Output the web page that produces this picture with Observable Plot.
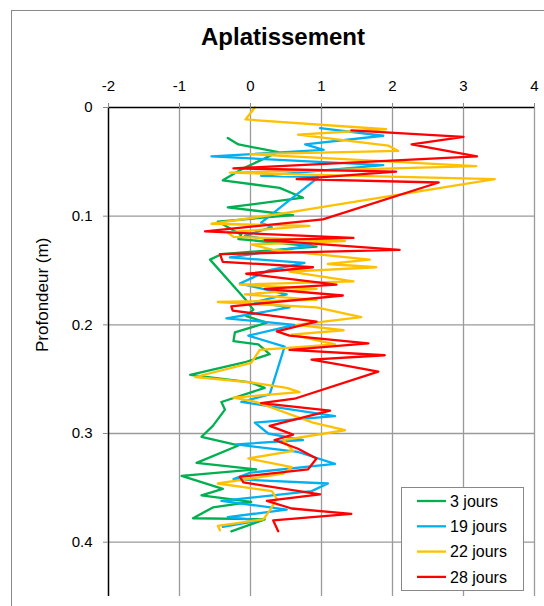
<!DOCTYPE html>
<html><head><meta charset="utf-8">
<script src="https://cdn.jsdelivr.net/npm/d3@7"></script>
<script src="https://cdn.jsdelivr.net/npm/@observablehq/plot@0.6"></script>
<style>
body{margin:0;background:#fff;}
#wrap{position:relative;width:544px;height:606px;overflow:hidden;font-family:"Liberation Sans",Arial,sans-serif;background:#fff;}
#frame{position:absolute;left:11px;top:10px;width:600px;height:700px;border:1px solid #888;box-sizing:border-box;}
#title{position:absolute;left:0;width:566px;top:23px;text-align:center;font-weight:bold;font-size:24px;color:#000;}
#chart{position:absolute;left:0;top:0;}
#legend{position:absolute;left:401px;top:487px;}
</style>
</head><body>
<div id="wrap"><div id="frame"></div><div id="chart"></div><div id="title"></div><div id="legend"></div></div>
<script>
const titleText = "Aplatissement";
const yLabel = "Profondeur (m)";
const seriesNames = ["3 jours","19 jours","22 jours","28 jours"];
const seriesColors = ["#00B050","#00B0F0","#FFC000","#FF0000"];
const xTicks = [-2,-1,0,1,2,3,4];
const yTicks = [0,0.1,0.2,0.3,0.4];

// 3 jours
const depth3 = [0.028,0.034,0.041,0.056,0.067,0.074,0.083,0.092,0.099,0.105,0.117,0.121,0.128,0.135,0.140,0.176,0.186,0.192,0.198,0.207,0.215,0.218,0.227,0.234,0.246,0.253,0.258,0.271,0.278,0.293,0.303,0.311,0.327,0.333,0.339,0.351,0.357,0.363,0.368,0.378,0.379,0.390];
const aplat3 = [-0.32,-0.17,0.39,-0.1,-0.39,0.41,0.74,-0.32,0.6,-0.46,-0.13,-0.17,0.93,-0.41,-0.57,-0.08,0.04,-0.06,0.23,-0.22,-0.24,0.11,0.27,-0.06,-0.85,0,0.2,-0.41,-0.36,-0.53,-0.69,-0.17,-0.76,0.08,-0.97,-0.39,-0.69,0.01,-0.53,-0.81,0.2,-0.27];
// 19 jours
const depth19 = [0.019,0.026,0.034,0.039,0.045,0.053,0.063,0.064,0.106,0.110,0.118,0.127,0.138,0.143,0.150,0.162,0.172,0.179,0.184,0.194,0.200,0.210,0.220,0.264,0.271,0.284,0.290,0.300,0.306,0.310,0.317,0.328,0.336,0.342,0.346,0.353,0.362,0.370,0.377,0.380,0.386];
const aplat19 = [0.98,1.87,0.77,1.03,-0.55,1.87,0.15,0.96,0.15,0.3,-0.08,0.86,-0.29,0.76,0.25,-0.15,0.51,0.06,0.55,-0.34,0.62,-0.03,0.48,0.27,-0.13,1.19,0.06,0.25,0.74,-0.2,0.67,1.19,0,-0.24,1.09,0.86,-0.41,0.51,-0.32,0.13,-0.39];
// 22 jours
const depth22 = [0.000,0.011,0.020,0.025,0.035,0.040,0.043,0.054,0.060,0.066,0.097,0.107,0.109,0.115,0.119,0.123,0.126,0.131,0.140,0.144,0.147,0.151,0.160,0.163,0.167,0.172,0.177,0.179,0.184,0.193,0.200,0.205,0.209,0.218,0.223,0.235,0.248,0.253,0.258,0.262,0.267,0.271,0.290,0.297,0.306,0.316,0.323,0.331,0.337,0.346,0.353,0.360,0.371,0.379,0.385,0.389];
const aplat22 = [0.06,-0.07,1.91,0.67,1.94,2.08,0.0,3.18,-0.29,3.44,0.5,-0.55,0.83,-0.32,-0.24,1.33,0.01,0.32,1.68,1.09,1.77,0.55,1.45,-0.15,0.93,-0.08,0.93,-0.46,0.93,1.56,0.65,1.31,0.58,1.19,0.13,0.01,-0.78,0,0.51,0.69,-0.24,0.08,0.88,1.33,0.46,0.6,-0.03,0.58,0.46,-0.46,0.3,0.37,0.27,0.18,-0.46,-0.43];
// 28 jours
const depth28 = [0.021,0.027,0.034,0.045,0.056,0.059,0.066,0.069,0.103,0.114,0.120,0.122,0.131,0.135,0.142,0.147,0.153,0.163,0.167,0.173,0.183,0.187,0.197,0.206,0.210,0.217,0.223,0.228,0.232,0.237,0.243,0.268,0.272,0.279,0.293,0.301,0.306,0.314,0.323,0.333,0.340,0.345,0.356,0.362,0.369,0.374,0.380,0.390];
const aplat28 = [1.42,3.0,2.27,3.19,-0.24,2.05,0.65,2.65,1.02,-0.64,1.45,0.2,2.1,-0.43,-0.39,0.88,-0.06,1.21,0.2,1.3,-0.27,-0.25,0.93,0.37,0.55,1.66,0.55,1.89,0.86,1.3,1.8,0.62,0.15,1.12,0.27,0.6,0.34,0.67,0.93,0.81,-0.15,-0.1,0.98,0.23,0.58,1.42,0.32,0.39];

const depths = [depth3, depth19, depth22, depth28];
const values = [aplat3, aplat19, aplat22, aplat28];
const rows = [];
seriesNames.forEach((s, i) => depths[i].forEach((d, j) => rows.push({s, d, v: values[i][j]})));

const font = '"Liberation Sans", Arial, sans-serif';
const chart = Plot.plot({
  width: 544, height: 606,
  marginTop: 107, marginLeft: 108, marginRight: 10, marginBottom: 10,
  x: {domain: [-2, 4]},
  y: {domain: [0, 0.45], reverse: true},
  color: {domain: seriesNames, range: seriesColors},
  style: {fontFamily: font, fontSize: "15px", background: "transparent", overflow: "visible", color: "#000"},
  marks: [
    Plot.ruleX(xTicks.filter(d => d > -2), {stroke: "#9a9a9a", strokeWidth: 1.3}),
    Plot.ruleY(yTicks.filter(d => d > 0), {stroke: "#9a9a9a", strokeWidth: 1.3}),
    Plot.line(rows, {x: "v", y: "d", z: "s", stroke: "s", strokeWidth: 2.3, curve: "linear"}),
    Plot.ruleY([0], {stroke: "#000", strokeWidth: 1.5}),
    Plot.ruleX([-2], {stroke: "#000", strokeWidth: 1.5}),
    Plot.axisX({anchor: "top", ticks: xTicks, tickFormat: d => String(d), tickSize: 5, tickPadding: 12, stroke: "#888", fill: "#000", fontSize: 15, label: null}),
    Plot.axisY({anchor: "left", ticks: yTicks, tickFormat: d => String(d), tickSize: 5, tickPadding: 11, stroke: "#888", fill: "#000", fontSize: 15, label: null}),
    Plot.text([yLabel], {frameAnchor: "left", rotate: -90, dx: -66, fontSize: 17, fill: "#000"})
  ]
});
document.getElementById("chart").appendChild(chart);
document.getElementById("title").textContent = titleText;

// legend
const lg = d3.select("#legend").append("svg").attr("width", 124).attr("height", 106)
  .style("font-family", font);
lg.append("rect").attr("x", 0.5).attr("y", 0.5).attr("width", 122).attr("height", 103)
  .attr("fill", "#fff").attr("stroke", "#888");
seriesNames.forEach((s, i) => {
  const cy = 14 + i * 25.3;
  lg.append("line").attr("x1", 16).attr("x2", 45).attr("y1", cy).attr("y2", cy)
    .attr("stroke", seriesColors[i]).attr("stroke-width", 2.3);
  lg.append("text").attr("x", 49).attr("y", cy).attr("dy", "0.36em")
    .attr("font-size", 16).attr("fill", "#000").text(s);
});
</script>
</body></html>
